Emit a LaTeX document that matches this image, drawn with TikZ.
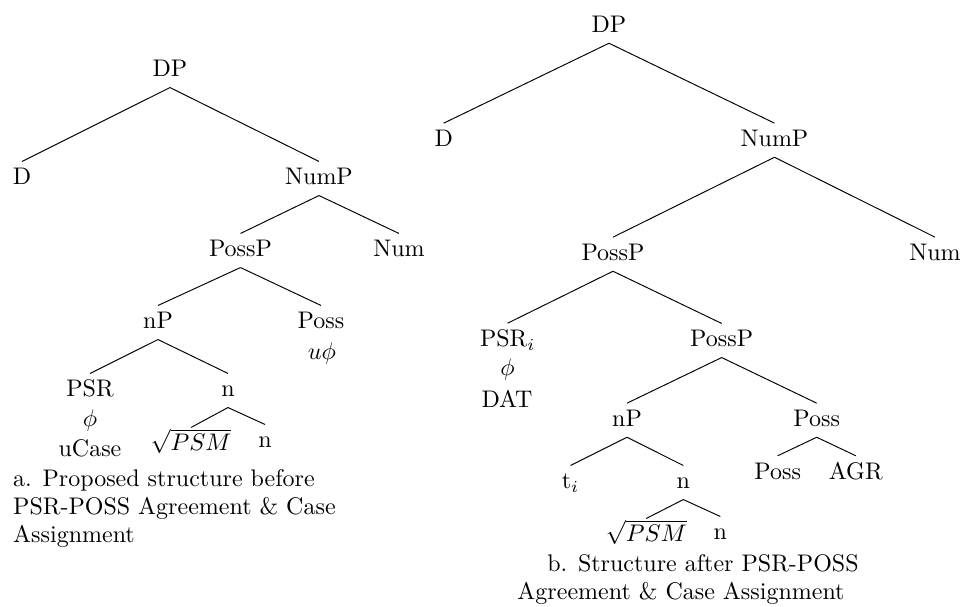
\documentclass[tikz,border=0pt]{standalone}
\usepackage{amsmath}
\usepackage{amssymb}
\usepackage{amsfonts}
\usepackage{tikz}

\begin{document}
\begin{tikzpicture}[x=0.41667pt, y=-0.41667pt,
	cat/.style={anchor=base, inner xsep=0pt, inner ysep=2.6pt, text height=7pt, text depth=1.6pt},
	feat/.style={anchor=base, inner sep=0pt},
	capleft/.style={anchor=base west, inner sep=0pt},
	capmid/.style={anchor=base, inner sep=0pt}]
					\useasboundingbox (0,0) rectangle (963,607);
					% a. before agreement
					\node[cat] (aDP) at (170,77) {DP};
					\node[cat] (aD) at (22,185) {D};
					\node[cat] (aNumP) at (319,185) {NumP};
					\node[cat] (aPossP) at (240.5,257) {PossP};
					\node[cat] (aNum) at (399,257) {Num};
					\node[cat] (anP) at (158,329) {nP};
					\node[cat] (aPoss) at (321,329) {Poss};
					\node[feat] (aPossF) at (322,360) {$u\phi$};
					\node[cat] (aPSR) at (90,397) {PSR};
					\node[feat] (aPSRphi) at (90,427) {$\phi$};
					\node[feat] (aPSRcase) at (90,457) {uCase};
					\node[cat] (an) at (228,397) {n};
					\node[cat] (aRoot) at (191,451) {$\sqrt{PSM}$};
					\node[cat] (anHead) at (265,448) {n};
					\draw (aDP.south)--(aD.north);
					\draw (aDP.south)--(aNumP.north);
					\draw (aNumP.south)--(aPossP.north);
					\draw (aNumP.south)--(aNum.north);
					\draw (aPossP.south)--(anP.north);
					\draw (aPossP.south)--(aPoss.north);
					\draw (anP.south)--(aPSR.north);
					\draw (anP.south)--(an.north);
					\draw (an.south)--(aRoot.north);
					\draw (an.south)--(anHead.north);
					\node[capleft] (aCap1) at (12.7,487) {a. Proposed structure before};
					\node[capleft] (aCap2) at (12.7,515) {PSR-POSS Agreement \& Case};
					\node[capleft] (aCap3) at (12.7,543) {Assignment};
					% b. after agreement
					\node[cat] (bDP) at (609,32.7) {DP};
					\node[cat] (bD) at (443.7,146.7) {D};
					\node[cat] (bNumP) at (774.5,146.7) {NumP};
					\node[cat] (bPossP) at (613,260.7) {PossP};
					\node[cat] (bNum) at (935,260.7) {Num};
					\node[cat] (bPSR) at (507.7,346.7) {PSR$_i$};
					\node[feat] (bPSRphi) at (507.5,376) {$\phi$};
					\node[feat] (bPSRdat) at (507,407.3) {DAT};
					\node[cat] (bPossPlow) at (721.7,347) {PossP};
					\node[cat] (bnP) at (627,426.7) {nP};
					\node[cat] (bPoss) at (816.7,426.7) {Poss};
					\node[cat] (bt) at (570.5,489) {t$_i$};
					\node[cat] (bn) at (683.3,489) {n};
					\node[cat] (bRoot) at (646.3,542) {$\sqrt{PSM}$};
					\node[cat] (bnHead) at (720.3,540) {n};
					\node[cat] (bPossHead) at (777.7,479.3) {Poss};
					\node[cat] (bAgr) at (855.8,479.3) {AGR};
					\draw (bDP.south)--(bD.north);
					\draw (bDP.south)--(bNumP.north);
					\draw (bNumP.south)--(bPossP.north);
					\draw (bNumP.south)--(bNum.north);
					\draw (bPossP.south)--(bPSR.north);
					\draw (bPossP.south)--(bPossPlow.north);
					\draw (bPossPlow.south)--(bnP.north);
					\draw (bPossPlow.south)--(bPoss.north);
					\draw (bnP.south)--(bt.north);
					\draw (bnP.south)--(bn.north);
					\draw (bn.south)--(bRoot.north);
					\draw (bn.south)--(bnHead.north);
					\draw (bPoss.south)--(bPossHead.north);
					\draw (bPoss.south)--(bAgr.north);
					\node[capmid] (bCap1) at (703,571.7) {b. Structure after PSR-POSS};
					\node[capmid] (bCap2) at (681,600) {Agreement \& Case Assignment};
				\end{tikzpicture}
\end{document}
